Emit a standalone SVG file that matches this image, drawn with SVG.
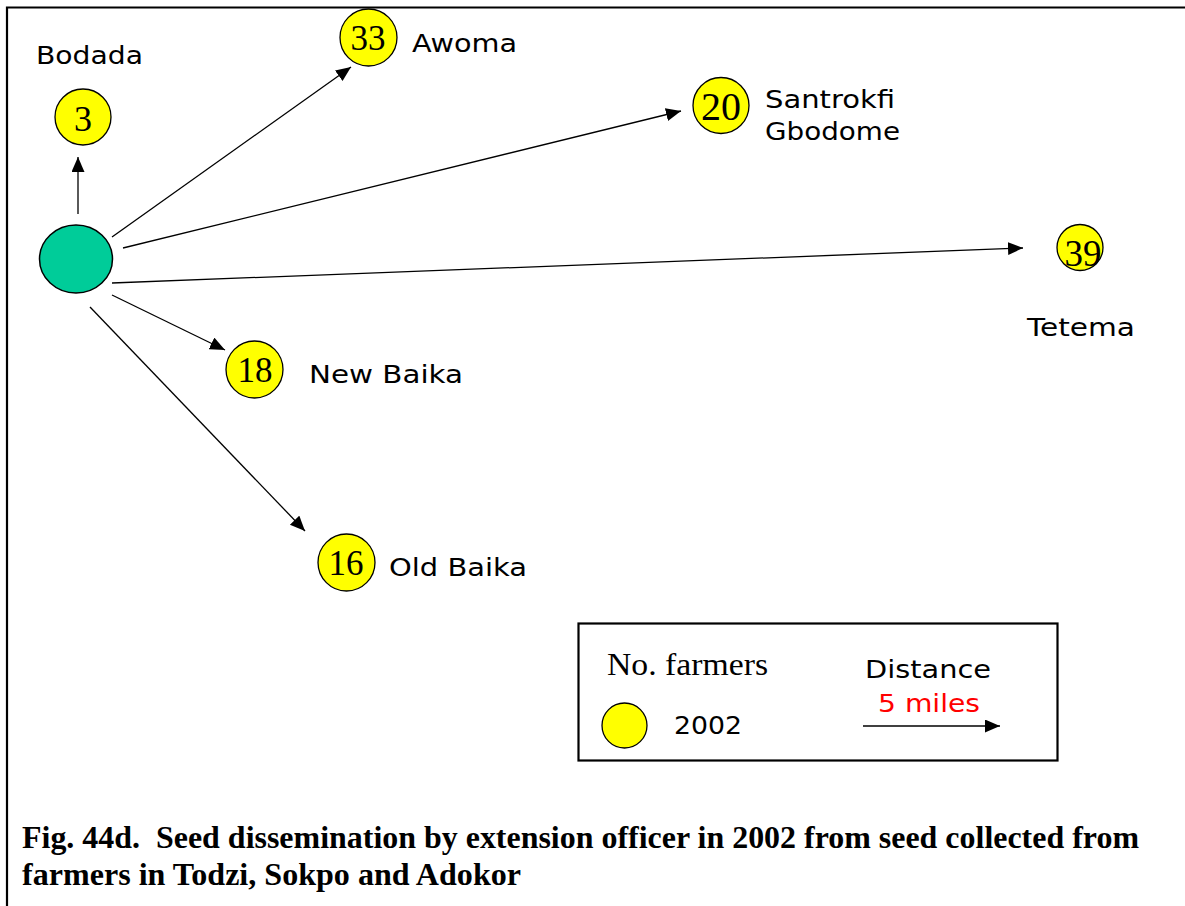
<svg xmlns="http://www.w3.org/2000/svg" width="1185" height="906" viewBox="0 0 1185 906">
  <style>
    .frame { fill: none; stroke: #000; stroke-width: 2.2; }
    .site { fill: #ffff00; stroke: #000; stroke-width: 1.3; }
    .origin { fill: #00cc99; stroke: #000; stroke-width: 1.5; }
    .num { font-family: "Liberation Serif", "Times New Roman", serif; fill: #000; text-anchor: middle; }
    .lbl { font-family: "DejaVu Sans", Verdana, sans-serif; font-size: 25px; fill: #000; }
    .edge { stroke: #000; stroke-width: 1.3; fill: none; marker-end: url(#arrow); }
    .cap { font-family: "Liberation Serif", "Times New Roman", serif; font-weight: bold; font-size: 32px; fill: #000; white-space: pre; }
  </style>
  <defs>
    <marker id="arrow" markerUnits="userSpaceOnUse" markerWidth="16" markerHeight="14" refX="15" refY="6.5" orient="auto">
      <path d="M0,0 L15,6.5 L0,13 Z" fill="#000"/>
    </marker>
  </defs>

  <rect width="1185" height="906" fill="#fff"/>

  <!-- page frame: top and left rules only -->
  <path class="frame" d="M7,906 L7,7.5 L1185,7.5"/>

  <!-- dissemination arrows from the source -->
  <g id="connectors">
    <line class="edge" x1="78" y1="214" x2="78" y2="157"/>
    <line class="edge" x1="112" y1="237" x2="351" y2="67"/>
    <line class="edge" x1="123" y1="248" x2="681" y2="111"/>
    <line class="edge" x1="112" y1="283" x2="1023" y2="248"/>
    <line class="edge" x1="112" y1="295" x2="225" y2="350"/>
    <line class="edge" x1="90" y1="307" x2="305" y2="531"/>
  </g>

  <g id="source">
    <ellipse class="origin" cx="76" cy="259" rx="36.5" ry="34"/>
  </g>

  <g id="bodada">
    <circle class="site" cx="83" cy="117" r="28"/>
    <text class="num" x="83" y="130.5" font-size="36">3</text>
    <text class="lbl" x="36" y="64" textLength="107" lengthAdjust="spacingAndGlyphs">Bodada</text>
  </g>

  <g id="awoma">
    <circle class="site" cx="368.5" cy="37.5" r="28.5"/>
    <text class="num" x="368" y="50" font-size="35">33</text>
    <text class="lbl" x="412" y="52" textLength="105" lengthAdjust="spacingAndGlyphs">Awoma</text>
  </g>

  <g id="santrokfi">
    <circle class="site" cx="721" cy="105.5" r="28"/>
    <text class="num" x="721" y="120" font-size="40">20</text>
    <text class="lbl" x="765" y="108" textLength="130" lengthAdjust="spacingAndGlyphs">Santrokfi</text>
    <text class="lbl" x="765" y="140" textLength="135" lengthAdjust="spacingAndGlyphs">Gbodome</text>
  </g>

  <g id="tetema">
    <circle class="site" cx="1080" cy="247.5" r="23"/>
    <text class="num" x="1083" y="266" font-size="37">39</text>
    <text class="lbl" x="1027" y="336" textLength="108" lengthAdjust="spacingAndGlyphs">Tetema</text>
  </g>

  <g id="new-baika">
    <circle class="site" cx="254.5" cy="369.5" r="28.5"/>
    <text class="num" x="255" y="382" font-size="35">18</text>
    <text class="lbl" x="309" y="383" textLength="154" lengthAdjust="spacingAndGlyphs">New Baika</text>
  </g>

  <g id="old-baika">
    <circle class="site" cx="346.5" cy="562.5" r="28.5"/>
    <text class="num" x="346" y="575" font-size="35">16</text>
    <text class="lbl" x="389" y="576" textLength="138" lengthAdjust="spacingAndGlyphs">Old Baika</text>
  </g>

  <!-- key -->
  <g id="legend">
    <rect x="578.5" y="623.5" width="479" height="137" fill="#fff" stroke="#000" stroke-width="2.2"/>
    <text x="607" y="675" font-family="Liberation Serif, Times New Roman, serif" font-size="32" textLength="161" lengthAdjust="spacingAndGlyphs">No. farmers</text>
    <circle class="site" cx="624.5" cy="725.5" r="22.5"/>
    <text class="lbl" x="674" y="734" textLength="68" lengthAdjust="spacingAndGlyphs">2002</text>
    <text class="lbl" x="865" y="678" textLength="126" lengthAdjust="spacingAndGlyphs">Distance</text>
    <text class="lbl" x="878" y="712" style="fill:#ff0000" textLength="102" lengthAdjust="spacingAndGlyphs">5 miles</text>
    <line class="edge" x1="863" y1="726" x2="1000" y2="726"/>
  </g>

  <g id="caption">
    <text class="cap" x="22" y="848" textLength="1117" lengthAdjust="spacingAndGlyphs">Fig. 44d.  Seed dissemination by extension officer in 2002 from seed collected from</text>
    <text class="cap" x="22" y="885" textLength="499" lengthAdjust="spacingAndGlyphs">farmers in Todzi, Sokpo and Adokor</text>
  </g>
</svg>
